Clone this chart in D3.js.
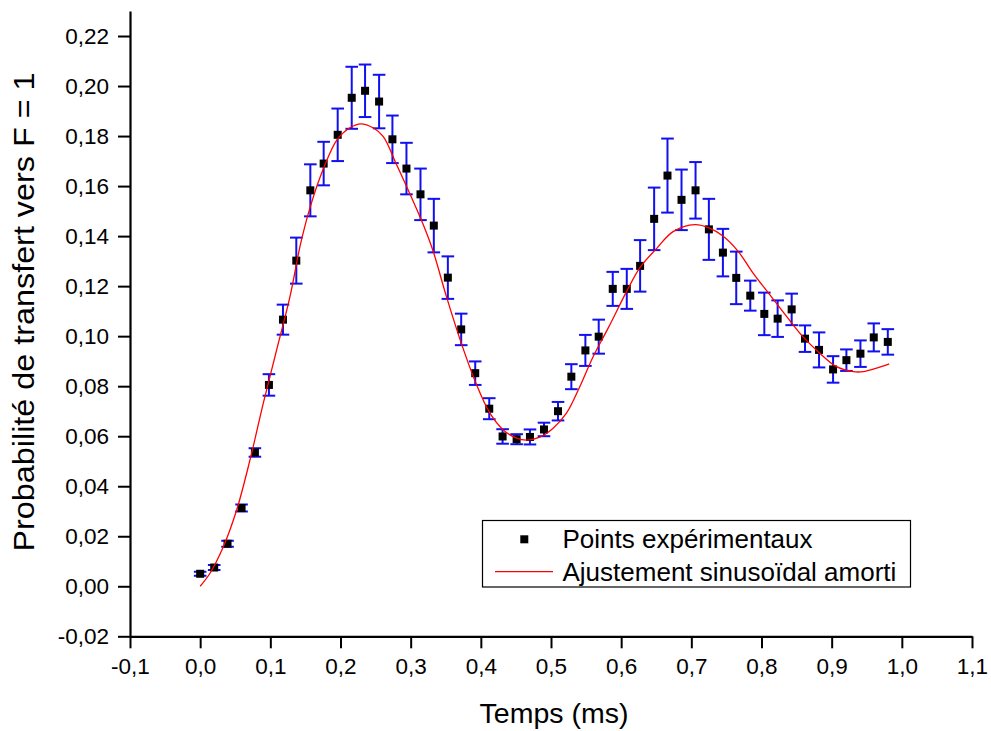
<!DOCTYPE html>
<html>
<head>
<meta charset="utf-8">
<script src="https://cdn.jsdelivr.net/npm/d3@7"></script>
<style>
  html, body { margin: 0; padding: 0; background: #fff; }
  svg { display: block; font-family: "Liberation Sans", Arial, sans-serif; }
</style>
</head>
<body>
<svg id="chart" width="991" height="731"></svg>
<script>
// ---- Data ----
const times = [0.000, 0.020, 0.039, 0.059, 0.078, 0.098, 0.118, 0.137, 0.157, 0.176,
               0.196, 0.216, 0.235, 0.255, 0.274, 0.294, 0.314, 0.333, 0.353, 0.372,
               0.392, 0.412, 0.431, 0.451, 0.470, 0.490, 0.510, 0.529, 0.549, 0.568,
               0.588, 0.608, 0.627, 0.647, 0.666, 0.686, 0.706, 0.725, 0.745, 0.764,
               0.784, 0.804, 0.823, 0.843, 0.862, 0.882, 0.902, 0.921, 0.941, 0.960, 0.980];
const probs = [0.0050, 0.0075, 0.0170, 0.0313, 0.0535, 0.0805, 0.1066, 0.1302, 0.1583, 0.1690,
               0.1805, 0.1953, 0.1981, 0.1938, 0.1787, 0.1670, 0.1567, 0.1442, 0.1234, 0.1027,
               0.0852, 0.0710, 0.0599, 0.0588, 0.0597, 0.0627, 0.0700, 0.0838, 0.0943, 0.0998,
               0.1189, 0.1189, 0.1281, 0.1469, 0.1642, 0.1545, 0.1583, 0.1427, 0.1334, 0.1233,
               0.1162, 0.1089, 0.1070, 0.1107, 0.0990, 0.0945, 0.0867, 0.0904, 0.0930, 0.0995, 0.0977];
const errors = [0.0008, 0.0010, 0.0012, 0.0014, 0.0017, 0.0043, 0.0060, 0.0092, 0.0104, 0.0087,
                0.0105, 0.0124, 0.0105, 0.0107, 0.0095, 0.0103, 0.0103, 0.0107, 0.0085, 0.0063,
                0.0047, 0.0042, 0.0029, 0.0020, 0.0030, 0.0027, 0.0037, 0.0050, 0.0062, 0.0068,
                0.0068, 0.0080, 0.0103, 0.0125, 0.0148, 0.0121, 0.0113, 0.0122, 0.0095, 0.0105,
                0.0060, 0.0085, 0.0073, 0.0063, 0.0053, 0.0070, 0.0053, 0.0043, 0.0053, 0.0056, 0.0051];

// Fitted damped sinusoid
const fitTimes = [0.000, 0.014, 0.033, 0.052, 0.071, 0.090, 0.109, 0.128, 0.143, 0.157,
                  0.176, 0.195, 0.214, 0.229, 0.247, 0.261, 0.280, 0.299, 0.318, 0.332,
                  0.351, 0.373, 0.394, 0.413, 0.432, 0.451, 0.465, 0.484, 0.503, 0.522,
                  0.541, 0.560, 0.582, 0.608, 0.627, 0.651, 0.674, 0.705, 0.726, 0.745,
                  0.767, 0.788, 0.812, 0.836, 0.859, 0.883, 0.907, 0.931, 0.945, 0.964, 0.982];
const fitProbs = [0.0000, 0.0052, 0.0158, 0.0305, 0.0505, 0.0732, 0.0945, 0.1158, 0.1368, 0.1518,
                  0.1672, 0.1785, 0.1834, 0.1849, 0.1832, 0.1798, 0.1685, 0.1568, 0.1445, 0.1340,
                  0.1158, 0.0965, 0.0805, 0.0692, 0.0625, 0.0592, 0.0584, 0.0596, 0.0632, 0.0692,
                  0.0798, 0.0918, 0.1035, 0.1180, 0.1275, 0.1352, 0.1418, 0.1446, 0.1432, 0.1400,
                  0.1338, 0.1252, 0.1165, 0.1078, 0.0998, 0.0932, 0.0878, 0.0858, 0.0858, 0.0872, 0.0889];

const xTicks = [-0.1, 0.0, 0.1, 0.2, 0.3, 0.4, 0.5, 0.6, 0.7, 0.8, 0.9, 1.0, 1.1];
const yTicks = [-0.02, 0.00, 0.02, 0.04, 0.06, 0.08, 0.10, 0.12, 0.14, 0.16, 0.18, 0.20, 0.22];
const xMinor = [-0.05, 0.05, 0.15, 0.25, 0.35, 0.45, 0.55, 0.65, 0.75, 0.85, 0.95, 1.05];
const yMinor = [-0.01, 0.01, 0.03, 0.05, 0.07, 0.09, 0.11, 0.13, 0.15, 0.17, 0.19, 0.21, 0.23];

const xTitle = "Temps (ms)";
const yTitle = "Probabilité de transfert vers F = 1";
const legendLabels = ["Points expérimentaux", "Ajustement sinusoïdal amorti"];

// ---- Drawing ----
const svg = d3.select("#chart");
const x = d3.scaleLinear().domain([-0.1, 1.1]).range([130, 972]);
const y = d3.scaleLinear().domain([-0.02, 0.23]).range([636.3, 11]);
const fmtY = v => d3.format(".2f")(v).replace("−", "-").replace(".", ",");
const fmtX = v => d3.format(".1f")(v).replace("−", "-").replace(".", ",");

// X axis
const gx = svg.append("g").attr("transform", `translate(0,${y(-0.02)})`);
gx.call(d3.axisBottom(x).tickValues(xMinor).tickSize(7).tickFormat(""));
gx.call(d3.axisBottom(x).tickValues(xTicks).tickSize(12).tickSizeOuter(0).tickPadding(10).tickFormat(fmtX));
gx.selectAll("path.domain").attr("stroke", "#000").attr("stroke-width", 2.2);
gx.selectAll(".tick line").attr("stroke", "#000").attr("stroke-width", 2);
gx.selectAll(".tick text").attr("font-size", 22.5).attr("fill", "#000")
  .attr("font-family", '"Liberation Sans", Arial, sans-serif').attr("dy", "0.72em");

// Y axis
const gy = svg.append("g").attr("transform", `translate(${x(-0.1)},0)`);
gy.call(d3.axisLeft(y).tickValues(yMinor).tickSize(7).tickFormat(""));
gy.call(d3.axisLeft(y).tickValues(yTicks).tickSize(12).tickSizeOuter(0).tickPadding(9).tickFormat(fmtY));
gy.selectAll("path.domain").attr("stroke", "#000").attr("stroke-width", 2.2);
gy.selectAll(".tick line").attr("stroke", "#000").attr("stroke-width", 2);
gy.selectAll(".tick text").attr("font-size", 22.5).attr("fill", "#000")
  .attr("font-family", '"Liberation Sans", Arial, sans-serif');

// Axis titles
svg.append("text").attr("x", 554).attr("y", 723).attr("text-anchor", "middle")
  .attr("font-size", 28.5).attr("fill", "#000").text(xTitle);
svg.append("text").attr("transform", "translate(33.5,312) rotate(-90)")
  .attr("text-anchor", "middle").attr("font-size", 29).attr("fill", "#000")
  .attr("textLength", 479).attr("lengthAdjust", "spacingAndGlyphs").text(yTitle);

// Data
const pts = times.map((t, i) => ({ t, p: probs[i], e: errors[i] }));
const capW = 6.3;
const eb = svg.append("g").attr("stroke", "#1010f0").attr("stroke-width", 2);
pts.forEach(d => {
  eb.append("line").attr("x1", x(d.t)).attr("x2", x(d.t)).attr("y1", y(d.p - d.e)).attr("y2", y(d.p + d.e));
  eb.append("line").attr("x1", x(d.t) - capW).attr("x2", x(d.t) + capW).attr("y1", y(d.p + d.e)).attr("y2", y(d.p + d.e));
  eb.append("line").attr("x1", x(d.t) - capW).attr("x2", x(d.t) + capW).attr("y1", y(d.p - d.e)).attr("y2", y(d.p - d.e));
});
const ms = 8;
svg.append("g").selectAll("rect").data(pts).join("rect")
  .attr("x", d => x(d.t) - ms / 2).attr("y", d => y(d.p) - ms / 2)
  .attr("width", ms).attr("height", ms).attr("fill", "#000");

// Fit line
const fit = fitTimes.map((t, i) => [t, fitProbs[i]]);
svg.append("path").datum(fit)
  .attr("d", d3.line().x(d => x(d[0])).y(d => y(d[1])).curve(d3.curveCatmullRom.alpha(0.5)))
  .attr("fill", "none").attr("stroke", "#ff0000").attr("stroke-width", 1.3);

// Legend
const lg = svg.append("g");
lg.append("rect").attr("x", 482.5).attr("y", 520.5).attr("width", 428).attr("height", 66.5)
  .attr("fill", "#fff").attr("stroke", "#000").attr("stroke-width", 1.2);
lg.append("rect").attr("x", 524.3 - ms / 2).attr("y", 539.3 - ms / 2).attr("width", ms).attr("height", ms).attr("fill", "#000");
lg.append("line").attr("x1", 495).attr("x2", 553).attr("y1", 571.7).attr("y2", 571.7)
  .attr("stroke", "#ff0000").attr("stroke-width", 1.3);
lg.append("text").attr("x", 562.5).attr("y", 547.7).attr("font-size", 26).attr("fill", "#000").text(legendLabels[0]);
lg.append("text").attr("x", 562.5).attr("y", 580.7).attr("font-size", 26).attr("fill", "#000").text(legendLabels[1]);
</script>
</body>
</html>
